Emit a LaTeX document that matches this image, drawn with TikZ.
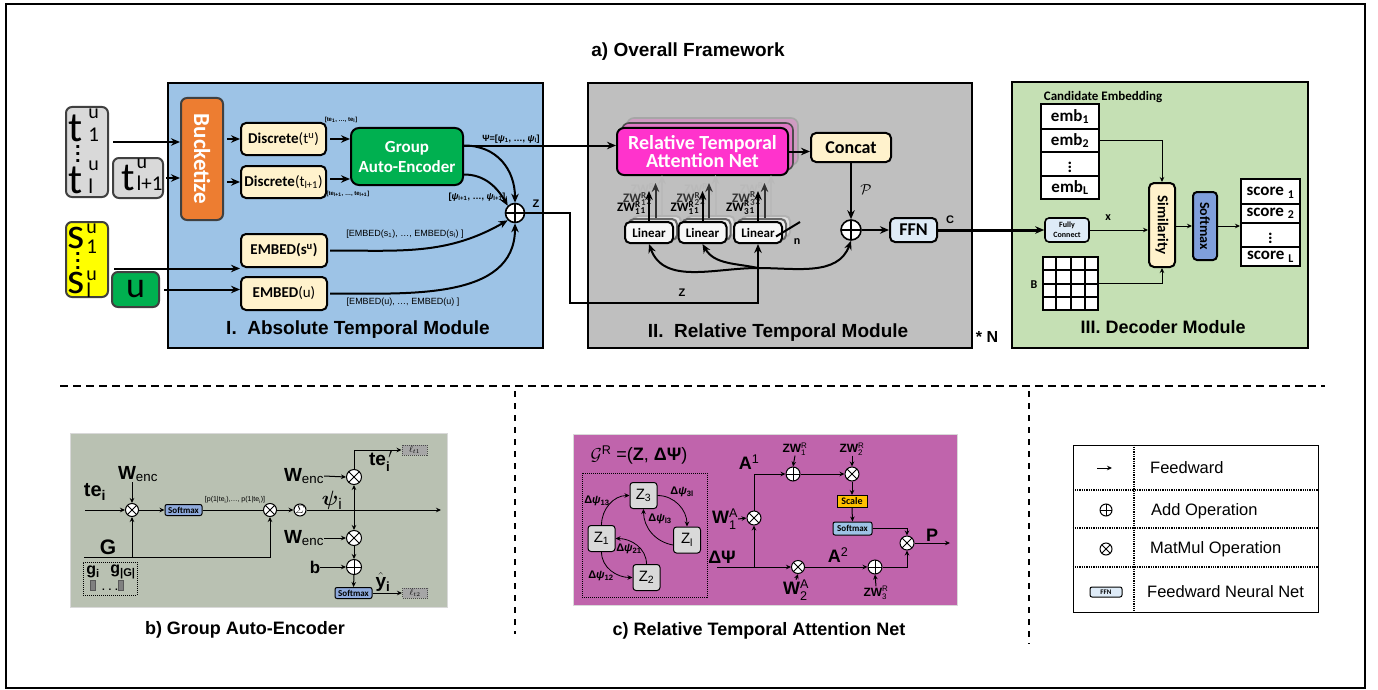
\documentclass[tikz,border=0pt]{standalone}
\usepackage{fontspec}
\usepackage{amsmath}
\setmainfont{Liberation Sans}
\newfontfamily\calib{Carlito}
\usetikzlibrary{positioning, calc, shapes.multipart, arrows.meta}

\newcommand\fsz[1]{\fontsize{#1}{#1}\selectfont}
\newcommand\sbs[1]{$_{\text{#1}}$}
\newcommand\sps[1]{$^{\text{#1}}$}
\newcommand\sbsp[2]{$^{\text{#2}}_{\text{#1}}$}
% big input letter with stacked scripts: base, sup, sub, sup raise, sub raise, gap
\newcommand\instk[6]{#1\kern#6\makebox[0pt][l]{\raisebox{#4}{\fsz{20}#2}}\raisebox{#5}{\fsz{21}#3}}

\definecolor{absblue}{HTML}{9DC3E6}
\definecolor{relgray}{HTML}{BFBFBF}
\definecolor{decgreen}{HTML}{C5E0B4}
\definecolor{ingray}{HTML}{D9D9D9}
\definecolor{inyellow}{HTML}{FFFF00}
\definecolor{ggreen}{HTML}{00B050}
\definecolor{bktorange}{HTML}{ED7D31}
\definecolor{cream}{HTML}{FFF2CC}
\definecolor{rtpink}{HTML}{FF33CC}
\definecolor{ffnblue}{HTML}{DEEBF7}
\definecolor{smblue}{HTML}{8FAADC}
\definecolor{decsoft}{HTML}{7F9FDB}
\definecolor{gaepanel}{HTML}{B9C1B2}
\definecolor{rtapanel}{HTML}{C064AC}
\definecolor{scaleorange}{HTML}{FFC000}
\definecolor{lossgray}{HTML}{A6A6A6}

\tikzstyle{module}=[rectangle, draw, line width=2pt, inner sep=0pt]
\tikzstyle{inbox}=[rectangle, draw=black!75, line width=2pt, rounded corners=6pt, inner sep=0pt]
\tikzstyle{opbox}=[rectangle, draw, line width=2pt, rounded corners=5pt, inner sep=0pt, fill=cream]
\tikzstyle{oplus}=[circle, draw, fill=white, inner sep=0pt, path picture={
  \draw (path picture bounding box.north) -- (path picture bounding box.south)
        (path picture bounding box.west) -- (path picture bounding box.east);}]
\tikzstyle{otimes}=[circle, draw, fill=white, inner sep=0pt, path picture={
  \draw (path picture bounding box.north west) -- (path picture bounding box.south east)
        (path picture bounding box.south west) -- (path picture bounding box.north east);}]
\tikzstyle{arr}=[->, line width=2pt]
\tikzstyle{fine}=[-{Stealth[length=5pt,width=4.5pt]}, line width=1pt]
\tikzstyle{smbox}=[rectangle, draw, line width=1pt, rounded corners=2pt, inner sep=0pt, fill=smblue, font=\calib\bfseries]
\tikzstyle{lossbox}=[rectangle, draw=black!70, densely dotted, line width=1pt, fill=lossgray, inner sep=0pt, font=\fsz{9}]
\tikzstyle{zbox}=[rectangle, draw, line width=1pt, rounded corners=3pt, fill=ingray, minimum width=27pt, minimum height=26pt, inner sep=0pt, font=\fsz{15}]
\tikzstyle{caption}=[font=\bfseries\fsz{19}]
\tikzstyle{lbl}=[inner sep=0pt]
\tikzstyle{vdots}=[inner sep=0pt, align=center, font=\bfseries\fontsize{20}{7}\selectfont]

\begin{document}
\begin{tikzpicture}[x=1pt, y=-1pt, >={Stealth[length=9pt,width=7.5pt]}]
\useasboundingbox (0,0) rectangle (1378,690);
\draw[line width=1.5pt] (6,4) rectangle (1365,688);

\node[caption] (title) at (688,52) {a) Overall Framework};

% ---- modules
\node[module, fill=absblue, minimum width=375pt, minimum height=265pt] (absmod) at (355.5,215.5) {};
\node[module, fill=relgray, minimum width=384pt, minimum height=265pt] (relmod) at (780,215.5) {};
\node[module, fill=decgreen, minimum width=296pt, minimum height=266pt] (decmod) at (1160,215) {};
\node[caption] (abscap) at (358,330) {I.\ \ Absolute Temporal Module};
\node[caption] (relcap) at (778,333) {II.\ \ Relative Temporal Module};
\node[caption, font=\bfseries\fsz{18}] (deccap) at (1163,327) {III. Decoder Module};
\node[font=\bfseries\fsz{16}] (repeat) at (987,337) {* N};

% ---- inputs
\node[inbox, fill=ingray, minimum width=42pt, minimum height=90pt] (tin) at (87,152) {};
\node[lbl, anchor=base west, font=\calib\fsz{42}] (tfirst) at (68,142) {\instk{t}{u}{1}{24pt}{0pt}{6pt}};
\node[vdots] (tdots) at (78,154) {.\\.\\.};
\node[lbl, anchor=base west, font=\calib\fsz{42}] (tlast) at (68,193) {\instk{t}{u}{l}{23pt}{0pt}{6pt}};
\node[inbox, fill=ingray, minimum width=50pt, minimum height=40pt] (tnext) at (138,178) {};
\node[lbl, anchor=base west, font=\calib\fsz{40}] (tnextlbl) at (121,190) {\instk{t}{u}{l+1}{22pt}{0pt}{2pt}};
\node[inbox, fill=inyellow, minimum width=42pt, minimum height=75pt] (sin) at (87,259.5) {};
\node[lbl, anchor=base west, font=\calib\fsz{44}] (sfirst) at (67,248) {\instk{s}{u}{1}{15pt}{-5pt}{2pt}};
\node[vdots] (sdots) at (78,261) {.\\.\\.};
\node[lbl, anchor=base west, font=\calib\fsz{44}] (slast) at (67,293) {\instk{s}{u}{l}{13pt}{-4pt}{2pt}};
\node[inbox, fill=ggreen, minimum width=47pt, minimum height=35pt, font=\calib\fsz{36}] (uin) at (135.5,289.5) {u};

% ---- I. absolute temporal module
\node[inbox, fill=bktorange, minimum width=42pt, minimum height=122pt] (bucket) at (202,159) {};
\node[lbl, rotate=-90, text=white, font=\calib\bfseries\fsz{23}] (bucketlbl) at (bucket) {Bucketize};
\node[opbox, minimum width=85pt, minimum height=32pt, font=\calib\bfseries\fsz{15}] (disc1) at (283.5,139) {Discrete\mdseries(t\sps{u})};
\node[opbox, minimum width=85pt, minimum height=32pt, font=\calib\bfseries\fsz{15}] (disc2) at (283.5,182) {Discrete\mdseries(t\sbs{l+1})};
\node[opbox, fill=ggreen, rounded corners=8pt, minimum width=112pt, minimum height=57pt, text=white, align=center, font=\calib\bfseries\fontsize{17}{20}\selectfont] (gae) at (407,156.5) {Group\\Auto-Encoder};
\node[oplus, line width=1.6pt, minimum size=19pt] (addz) at (515,213) {};
\node[opbox, minimum width=86pt, minimum height=33pt, font=\calib\bfseries\fsz{15}] (embs) at (284,250.5) {EMBED(s\sps{u})};
\node[opbox, minimum width=86pt, minimum height=33pt, font=\calib\bfseries\fsz{15}] (embu) at (284,293.5) {EMBED\mdseries(u)};

\node[lbl, font=\bfseries\fsz{6}] (telbl) at (341,120) {[te\sbs{1}, \dots, te\sbs{l}]};
\node[lbl, font=\bfseries\fsz{6}] (tenxt) at (348,194) {[te\sbs{l+1}, \dots, te\sbs{l+1}]};
\node[lbl, font=\bfseries\fsz{9}] (psilbl) at (511,139) {Ψ=[\textit{ψ}\sbs{1}, \dots, \textit{ψ}\sbs{l}]};
\node[lbl, font=\bfseries\fsz{9}] (psinxt) at (477,197) {[\textit{ψ}\sbs{l+1}, \dots, \textit{ψ}\sbs{l+1}]};
\node[lbl, font=\fsz{9}] (embslbl) at (405,234) {[EMBED(s\sbs{1}), \dots, EMBED(s\sbs{l}) ]};
\node[lbl, font=\fsz{9}] (embulbl) at (403,302) {[EMBED(u), \dots, EMBED(u) ]};
\node[lbl, font=\bfseries\fsz{11}] (zlbla) at (536,204) {Z};

\coordinate (tarr) at ([xshift=4pt,yshift=10pt]tin.east);
\draw[arr] (tarr) -- (tarr -| bucket.west);
\draw[arr] ([xshift=2pt]tnext.east) -- (tnext.east -| bucket.west);
\draw[arr] ([xshift=3pt]bucket.east |- disc1.west) -- (disc1.west);
\draw[arr] ([xshift=3pt]bucket.east |- disc2.west) -- (disc2.west);
\draw[arr] ([xshift=3pt]disc1.east) -- (disc1.east -| gae.west);
\coordinate (d2out) at ([xshift=3pt,yshift=3pt]disc2.east);
\draw[arr] (d2out) -- (d2out -| gae.west);
\coordinate (sarr) at ([xshift=5pt,yshift=-9pt]sin.east);
\draw[arr] (sarr) -- (sarr -| embs.west);
\draw[arr] ([xshift=4pt]uin.east) -- (uin.east -| embu.west);

\coordinate (psiout) at ([yshift=11pt]gae.east);
\draw[arr] (psiout) to[out=0, in=90, looseness=1.1] (addz.north);
\coordinate (psiout2) at ([yshift=-18pt]gae.east);
\draw[arr] (psiout2) to[out=0, in=120] (addz.north west);
\draw[arr] ([xshift=2pt]embs.east) to[out=0, in=-150] (addz.south west);
\draw[arr] ([xshift=2pt]embu.east) to[out=0, in=-90] (addz.south);

% ---- II. relative temporal module
\node[rectangle, draw=gray!70, line width=1.6pt, rounded corners=7pt, fill=rtpink!25!relgray, minimum width=171pt, minimum height=47pt] (rtanback2) at (712.5,141.5) {};
\node[rectangle, draw=gray!60!black, line width=1.6pt, rounded corners=7pt, fill=rtpink!50!relgray, minimum width=171pt, minimum height=47pt] (rtanback1) at (707.5,146.5) {};
\node[rectangle, draw, line width=2pt, rounded corners=7pt, fill=rtpink, minimum width=171pt, minimum height=47pt, text=white, align=center, font=\calib\bfseries\fontsize{20}{18}\selectfont] (rtan) at (702.5,151.5) {Relative Temporal\\Attention Net};
\node[opbox, minimum width=80pt, minimum height=29pt, font=\calib\bfseries\fsz{18}] (concat) at (851,147.5) {Concat};
\node[oplus, line width=1.6pt, minimum size=20pt] (addp) at (851,230) {};
\node[opbox, fill=ffnblue, minimum width=47pt, minimum height=24pt, font=\calib\bfseries\fsz{18}] (ffn) at (913.5,230) {FFN};
\node[lbl, font=\fsz{15}] (plbl) at (866,190) {$\mathcal{P}$};
\node[lbl, font=\bfseries\fsz{11}] (clbl) at (950,220) {C};
\node[lbl, font=\bfseries\fsz{11}] (zlblb) at (682,293) {Z};

\coordinate (psiin) at (psiout -| rtan.west);
\draw[arr] (psiout) -- (psiin);
\draw[arr] (rtan.east) -- (rtan.east -| concat.west);
\draw[arr] (concat.south) -- (addp.north);
\draw[arr] (addp.east) -- (ffn.west);

\foreach \x/\k in {649/1, 702.5/2, 758/3} {
  \node[opbox, fill=gray!25, draw=gray!60, minimum width=48pt, minimum height=21pt] (lin\k-back2) at (\x+8, 226.5) {};
  \node[opbox, fill=gray!15, draw=gray!80!black, minimum width=48pt, minimum height=21pt] (lin\k-back1) at (\x+4, 229.5) {};
  \node[opbox, fill=white!94!gray, minimum width=48pt, minimum height=21pt, font=\calib\bfseries\fsz{13}] (lin\k) at (\x, 232.5) {Linear};
}
\foreach \k/\m/\n in {1/1/1, 2/1/2, 3/3/3} {
  \node[lbl, anchor=east, text=gray!55, font=\calib\bfseries\fsz{13}] (zwc\k) at ([xshift=11pt,yshift=31pt]lin\k.north) {ZW\sbsp{\n}{R}\sbs{n}};
  \node[lbl, anchor=east, text=gray!40!black, font=\calib\bfseries\fsz{13}] (zwb\k) at ([xshift=3pt,yshift=22pt]lin\k.north) {ZW\sbsp{\n}{R}\sbs{2}};
  \node[lbl, anchor=east, font=\calib\bfseries\fsz{13}] (zwa\k) at ([xshift=-3pt,yshift=13pt]lin\k.north) {ZW\sbsp{\m}{R}\sbs{1}};
  \draw[->, line width=2pt, gray!55] ([xshift=13pt,yshift=6pt]lin\k.north) -- ([xshift=13pt,yshift=46pt]lin\k.north);
  \draw[->, line width=2pt, gray!40!black] ([xshift=6.5pt,yshift=3pt]lin\k.north) -- ([xshift=6.5pt,yshift=38pt]lin\k.north);
  \draw[->, line width=2pt] (lin\k.north) -- ([yshift=30pt]lin\k.north);
}
\coordinate (nstart) at ([xshift=-7pt,yshift=-4pt]lin3.east);
\coordinate (nend) at (800,222);
\draw[line width=2pt] (nstart) -- (nend);
\node[lbl, font=\calib\bfseries\fsz{12}] (nlbl) at (797,242) {n};

\coordinate (zbend) at (570,303);
\draw[arr] (addz.east) -| (zbend) -| (lin3.south);
\coordinate (zsplit) at (758,268);
\draw[arr] (zsplit) to[out=180, in=-70] (lin1.south);
\draw[arr] (zsplit) to[out=168, in=-60] (lin2.south);
\draw[arr] (zsplit) to[out=0, in=-110] (addp.south);

% ---- III. decoder module
\node[lbl, font=\calib\bfseries\fsz{13}] (candlbl) at (1103,97) {Candidate Embedding};
\node[rectangle split, rectangle split parts=4, draw, line width=2pt, fill=white, minimum width=58pt, text height=13pt, text depth=4pt, inner ysep=3pt, font=\calib\bfseries\fsz{17}] (emb) at (1070,151.5)
  {emb\sbs{1}\nodepart{two}emb\sbs{2}\nodepart{three}$\vdots$\nodepart{four}emb\sbs{L}};
\node[rectangle split, rectangle split parts=4, draw, line width=2pt, fill=white, minimum width=59pt, text height=13pt, text depth=4pt, inner ysep=3pt, font=\calib\bfseries\fsz{17}] (score) at (1270.5,222.5)
  {score \sbs{1}\nodepart{two}score \sbs{2}\nodepart{three}$\vdots$\nodepart{four}score \sbs{L}};
\node[opbox, fill=ffnblue, line width=1.6pt, rounded corners=4pt, minimum width=44pt, minimum height=24pt, align=center, font=\calib\bfseries\fontsize{8}{10}\selectfont] (fc) at (1067,230) {Fully\\Connect};
\node[opbox, minimum width=26pt, minimum height=84pt] (sim) at (1162,225) {};
\node[lbl, rotate=-90, font=\calib\bfseries\fsz{15}] (simlbl) at (sim) {Similarity};
\node[opbox, fill=decsoft, rounded corners=4pt, minimum width=24pt, minimum height=68pt] (soft) at (1205,226) {};
\node[lbl, rotate=-90, font=\calib\bfseries\fsz{14}] (softlbl) at (soft) {Softmax};
\node[rectangle, draw, line width=2pt, fill=white, minimum width=55pt, minimum height=53pt, inner sep=0pt] (bmat) at (1070.5,283.5) {};
\foreach \i in {1,2,3} {
  \draw[line width=2pt] ($(bmat.north west)!\i/4!(bmat.north east)$) -- ($(bmat.south west)!\i/4!(bmat.south east)$);
  \draw[line width=2pt] ($(bmat.north west)!\i/4!(bmat.south west)$) -- ($(bmat.north east)!\i/4!(bmat.south east)$);
}
\node[lbl, font=\calib\bfseries\fsz{12}] (blbl) at (1034,285) {B};
\node[lbl, font=\calib\bfseries\fsz{12}] (xlbl) at (1108,218) {x};

\draw[->, line width=3pt] (ffn.east) -- (fc.west);
\coordinate (embout) at ([yshift=11pt]emb.east);
\draw[fine] (embout) -| (sim.north);
\draw[fine] (fc.east) -- (fc.east -| sim.west);
\draw[fine] (bmat.east) -| (sim.south);
\draw[fine] (sim.east |- soft.west) -- (soft.west);
\draw[fine] (soft.east) -- (soft.east -| score.west);

% ---- separators
\draw[line width=2pt, dash pattern=on 8pt off 5pt] (60,386) -- (1325,386);
\draw[line width=1.2pt, dash pattern=on 6pt off 6pt] (515,391) -- (515,634);
\draw[line width=1.2pt, dash pattern=on 6pt off 6pt] (1029,391) -- (1029,644);

% ---- b) group auto-encoder
\node[rectangle, fill=gaepanel, draw=gray!30, minimum width=377pt, minimum height=174pt, inner sep=0pt] (gaepanel) at (258.5,520) {};
\node[caption, font=\bfseries\fsz{18}] (gaecap) at (245,630) {b) Group Auto-Encoder};
\node[otimes, line width=1pt, minimum size=13pt] (mula) at (132,510) {};
\node[smbox, minimum width=37pt, minimum height=11pt, font=\calib\bfseries\fsz{9}] (softa) at (183.5,510) {Softmax};
\node[otimes, line width=1pt, minimum size=13pt] (mulb) at (270,510) {};
\node[circle, draw, line width=1pt, fill=white, minimum size=12pt, inner sep=0pt, font=\fsz{11}] (sigma) at (300,510) {$\varSigma$};
\node[otimes, line width=1pt, minimum size=15pt] (mulc) at (354,477) {};
\node[otimes, line width=1pt, minimum size=15pt] (muld) at (354,538) {};
\node[oplus, line width=1pt, minimum size=15pt] (addb) at (354,567) {};
\node[smbox, minimum width=37pt, minimum height=11pt, font=\calib\bfseries\fsz{9}] (softb) at (353.5,593) {Softmax};
\node[lossbox, minimum width=25pt, minimum height=10pt] (lossa) at (414.5,450) {$\ell_{t1}$};
\node[lossbox, minimum width=25pt, minimum height=10pt] (lossb) at (415,593) {$\ell_{t2}$};
\node[rectangle, draw, densely dotted, line width=1pt, minimum width=54pt, minimum height=33pt] (gbox) at (110,578.5) {};
\node[lbl, font=\bfseries\fsz{16}] (gfirst) at (93,572) {g\sbs{i}};
\node[lbl, font=\bfseries\fsz{16}] (glast) at (123,572) {g\sbs{|G|}};
\node[rectangle, draw=gray!70!black, fill=gray, minimum width=5pt, minimum height=10pt, inner sep=0pt] (gbar1) at (93,585) {};
\node[rectangle, draw=gray!70!black, fill=gray, minimum width=5pt, minimum height=10pt, inner sep=0pt] (gbar2) at (121,585) {};
\node[lbl, font=\bfseries\fsz{10}] (gdots) at (110,590) {. . .};

\node[lbl, font=\fsz{19}] (wenca) at (138,474) {\textbf{W}\sbs{enc}};
\node[lbl, font=\bfseries\fsz{20}] (telbl2) at (95,492) {te\sbs{i}};
\node[lbl, font=\fsz{7}] (plist) at (235,500) {[p(1|te\sbs{i}),\dots, p(1|te\sbs{i})]};
\node[lbl, font=\fsz{22}] (psii) at (332,500) {$\boldsymbol{\psi}$\sbs{i}};
\node[lbl, font=\bfseries\fsz{21}] (glbl) at (108,547) {G};
\node[lbl, font=\fsz{19}] (wencb) at (304,476) {\textbf{W}\sbs{enc}};
\node[lbl, font=\fsz{19}] (wencc) at (304,538) {\textbf{W}\sbs{enc}};
\node[lbl, font=\bfseries\fsz{17}] (blbl2) at (315,567) {b};
\node[lbl, font=\bfseries\fsz{19}] (teprime) at (381,461) {te$_{\text{i}}^{\,\prime}$};
\node[lbl, font=\bfseries\fsz{19}] (yhat) at (383,582) {$\hat{\mathbf{y}}$\sbs{i}};

\coordinate (tein) at (85,510);
\coordinate (psiend) at (441,510);
\coordinate (gstart) at (84,557);
\draw[fine] (tein) -- (mula.west);
\draw[fine] (wenca.south -| mula.north) -- (mula.north);
\draw[fine] (mula.east) -- (softa.west);
\draw[line width=1pt] (softa.east) -- (mulb.west);
\draw[fine] (mulb.east) -- (sigma.west);
\draw[fine] (sigma.east) -- (psiend);
\draw[fine] (gstart) -| (mulb.south);
\draw[fine] (mula.south |- gstart) -- (mula.south);
\draw[fine] (wencb.east) -- (mulc.west);
\draw[fine] (wencc.east) -- (muld.west);
\draw[{Stealth[length=5pt,width=4.5pt]}-{Stealth[length=5pt,width=4.5pt]}, line width=1pt] (mulc.south) -- (muld.north);
\draw[fine] (muld.south) -- (addb.north);
\draw[fine] (blbl2.east) -- (addb.west);
\draw[fine] (addb.south) -- (softb.north);
\draw[fine] (mulc.north) |- (lossa.west);
\draw[fine] (softb.east) -- (lossb.west);

% ---- c) relative temporal attention net
\node[rectangle, fill=rtapanel, draw=gray!30, minimum width=384pt, minimum height=171pt, inner sep=0pt] (rtapanel) at (765,519.5) {};
\node[caption, font=\bfseries\fsz{18}] (rtacap) at (759,631) {c) Relative Temporal Attention Net};
\node[lbl, font=\fsz{18}] (grlbl) at (639,455) {$\mathcal{G}$\sps{R} =(\textbf{Z}, \textbf{ΔΨ})};
\node[rectangle, draw, densely dotted, line width=1pt, minimum width=125pt, minimum height=124pt] (gbound) at (644.5,535) {};
\node[zbox] (zthree) at (643.5,495.5) {Z\sbs{3}};
\node[zbox] (zone) at (601.5,538.5) {Z\sbs{1}};
\node[zbox] (zl) at (687,540) {Z\sbs{l}};
\node[zbox] (ztwo) at (646.5,577.5) {Z\sbs{2}};
\draw[fine, line width=0.8pt] (zone.north) to[out=90, in=180] (zthree.west);
\draw[fine, line width=0.8pt] (zthree.east) to[out=0, in=90] (zl.north);
\draw[fine, line width=0.8pt] ([yshift=-5pt]zl.west) to[out=170, in=-90] (zthree.south);
\draw[fine, line width=0.8pt] (zone.south) to[out=-90, in=180] (ztwo.west);
\draw[fine, line width=0.8pt] (ztwo.north) to[out=90, in=0] (zone.east);
\node[lbl, font=\bfseries\fsz{11}] (d13) at (597,501) {Δ\textit{ψ}\sbs{13}};
\node[lbl, font=\bfseries\fsz{11}] (d3l) at (682,492) {Δ\textit{ψ}\sbs{3l}};
\node[lbl, font=\bfseries\fsz{11}] (dl3) at (660,519) {Δ\textit{ψ}\sbs{l3}};
\node[lbl, font=\bfseries\fsz{11}] (d21) at (629,549) {Δ\textit{ψ}\sbs{21}};
\node[lbl, font=\bfseries\fsz{11}] (d12) at (601,576) {Δ\textit{ψ}\sbs{12}};

\node[otimes, line width=1pt, minimum size=13pt] (mule) at (798,567) {};
\node[oplus, line width=1pt, minimum size=14pt] (addg) at (875,567) {};
\node[otimes, line width=1pt, minimum size=14pt] (mulf) at (754,518) {};
\node[oplus, line width=1pt, minimum size=14pt] (addf) at (793,474) {};
\node[otimes, line width=1pt, minimum size=14pt] (mulg) at (852,474) {};
\node[otimes, line width=1pt, minimum size=14pt] (mulp) at (907,543) {};
\node[rectangle, draw, line width=1pt, fill=scaleorange, minimum width=30pt, minimum height=12pt, inner sep=0pt, font=\calib\bfseries\fsz{10}] (scale) at (852,501.5) {Scale};
\node[smbox, fill=absblue, minimum width=39pt, minimum height=13pt, font=\calib\bfseries\fsz{9}] (softc) at (852.5,528.5) {Softmax};

\node[lbl, font=\bfseries\fsz{18}] (dpsi) at (722,557) {ΔΨ};
\node[lbl, font=\fsz{18}] (wa1) at (725,519) {\textbf{W}\sbsp{1}{A}};
\node[lbl, font=\fsz{18}] (wa2) at (796,590) {\textbf{W}\sbsp{2}{A}};
\node[lbl, font=\fsz{18}] (aone) at (749,462) {\textbf{A}\sps{1}};
\node[lbl, font=\fsz{18}] (atwo) at (838,555) {\textbf{A}\sps{2}};
\node[lbl, font=\fsz{12}] (zwr1) at (795,449) {\textbf{ZW}\sbsp{1}{R}};
\node[lbl, font=\fsz{12}] (zwr2) at (852,449) {\textbf{ZW}\sbsp{2}{R}};
\node[lbl, font=\fsz{12}] (zwr3) at (876,593) {\textbf{ZW}\sbsp{3}{R}};
\node[lbl, font=\bfseries\fsz{18}] (plbl2) at (932,535) {P};

\coordinate (dpsiin) at (717,567);
\coordinate (pout) at (950,543);
\draw[fine] (dpsiin) -- (mule.west);
\draw[fine] (mulf.south |- dpsiin) -- (mulf.south);
\draw[fine] (wa1.east) -- (mulf.west);
\draw[fine] (mulf.north) |- (addf.west);
\draw[fine] (zwr1.south) -- (addf.north);
\draw[fine] (addf.east) -- (mulg.west);
\draw[fine] (zwr2.south) -- (mulg.north);
\draw[fine] (mulg.south) -- (scale.north);
\draw[fine] (scale.south) -- (softc.north);
\draw[fine] (softc.east) -| (mulp.north);
\draw[fine] (mule.east) -- (addg.west);
\draw[fine] (wa2.north) -- (mule.south);
\draw[fine] (zwr3.north) -- (addg.south);
\draw[fine] (addg.east) -| (mulp.south);
\draw[fine] (mulp.east) -- (pout);

% ---- legend
\node[rectangle, draw, line width=1pt, minimum width=245pt, minimum height=167pt, inner sep=0pt] (legend) at (1195.5,528.5) {};
\foreach \yy in {490,528,567}
  \draw[densely dotted, line width=1.3pt] (legend.west |- 0,\yy) -- (legend.east |- 0,\yy);
\draw[densely dotted, line width=1.3pt] (legend.north -| 1134,0) -- (legend.south -| 1134,0);
\coordinate (legarra) at (1097,468);
\coordinate (legarrb) at (1112,468);
\draw[fine] (legarra) -- (legarrb);
\node[oplus, line width=1pt, minimum size=12pt] (legadd) at (1106,510) {};
\node[otimes, line width=1pt, minimum size=12pt] (legmul) at (1106,549) {};
\node[opbox, fill=ffnblue, line width=1pt, rounded corners=2pt, minimum width=32pt, minimum height=10pt, font=\calib\bfseries\fsz{7}] (legffn) at (1106,592) {FFN};
\node[lbl, anchor=west, font=\fsz{16.5}] (legfeed) at (1150,468) {Feedward};
\node[lbl, anchor=west, font=\fsz{16.5}] (legadd-t) at (1151,511) {Add Operation};
\node[lbl, anchor=west, font=\fsz{16.5}] (legmul-t) at (1150,549) {MatMul Operation};
\node[lbl, anchor=west, font=\fsz{16.5}] (legffn-t) at (1147,592) {Feedward Neural Net};
\end{tikzpicture}
\end{document}
